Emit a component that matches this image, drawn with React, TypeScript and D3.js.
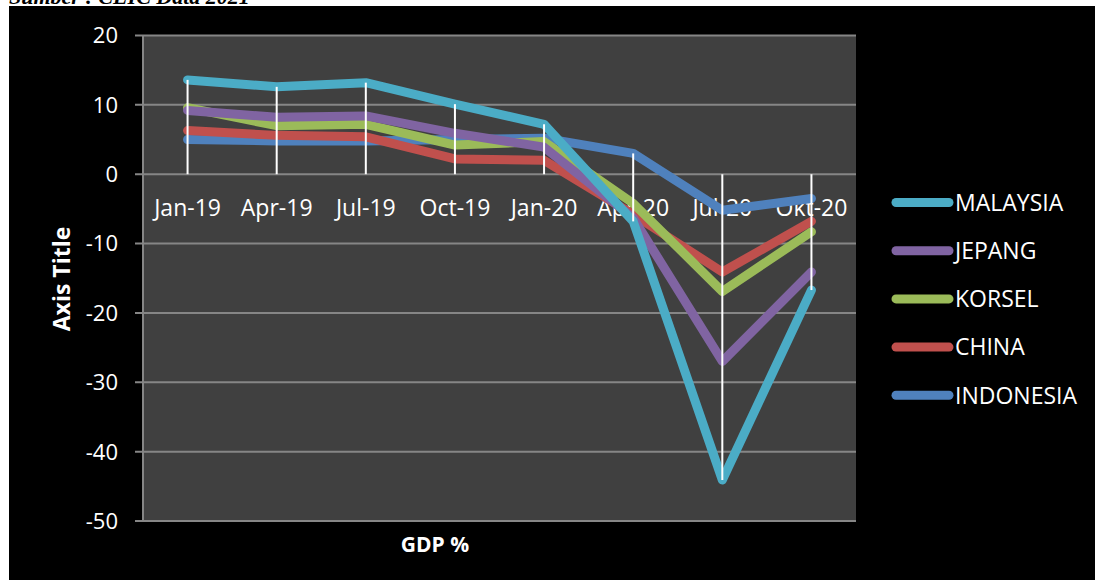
import React from "react";
import * as d3 from "d3";

const categories = ["Jan-19", "Apr-19", "Jul-19", "Oct-19", "Jan-20", "Apr-20", "Jul-20", "Okt-20"];
const seriesNames = ["MALAYSIA", "JEPANG", "KORSEL", "CHINA", "INDONESIA"];
const seriesColors = ["#4BACC6", "#8064A2", "#9BBB59", "#C0504D", "#4F81BD"];
const malaysia = [13.6, 12.6, 13.2, 10.1, 7.2, -6.8, -44.1, -16.7];
const jepang = [9.2, 8.2, 8.4, 5.9, 3.9, -6.3, -27.0, -14.1];
const korsel = [9.6, 7.0, 7.2, 4.2, 4.7, -4.2, -16.9, -8.3];
const china = [6.3, 5.6, 5.4, 2.2, 2.0, -5.8, -14.1, -6.8];
const indonesia = [5.0, 4.8, 4.8, 5.0, 5.2, 3.0, -5.2, -3.5];
const seriesValues = [malaysia, jepang, korsel, china, indonesia];
const yTicks = [20, 10, 0, -10, -20, -30, -40, -50];

const W = 1095;
const H = 582;
const plot = { left: 143, right: 856, top: 35.5, bottom: 521 };
const FONT = "'Open Sans', sans-serif";

export default function App() {
  const x = d3.scaleBand<string>().domain(categories).range([plot.left, plot.right]).padding(0);
  const y = d3.scaleLinear().domain([-50, 20]).range([plot.bottom, plot.top]);
  const cx = (c: string) => (x(c) as number) + x.bandwidth() / 2;
  const line = d3
    .line<number>()
    .x((_, i) => cx(categories[i]))
    .y((d) => y(d));

  const drawOrder = seriesNames.map((_, i) => i).reverse();

  return (
    <svg width={W} height={H} style={{ position: "absolute", left: 0, top: 0, background: "#fff" }}>
      <text
        x={9}
        y={4}
        fontFamily="'Liberation Serif', serif"
        fontWeight="bold"
        fontStyle="italic"
        fontSize={22}
        fill="#000"
      >
        Sumber : CEIC Data 2021
      </text>
      <rect x={9} y={6} width={W - 9} height={574} fill="#000" />
      <rect x={plot.left} y={plot.top} width={plot.right - plot.left} height={plot.bottom - plot.top} fill="#404040" />
      {yTicks.map((t) => (
        <g key={t}>
          <line x1={135} x2={plot.right} y1={y(t)} y2={y(t)} stroke="#868686" strokeWidth={2} />
          <text x={118} y={y(t)} dy="0.36em" textAnchor="end" fill="#fff" fontFamily={FONT} fontSize={22}>
            {t}
          </text>
        </g>
      ))}
      <line x1={plot.left} x2={plot.left} y1={plot.top} y2={plot.bottom} stroke="#868686" strokeWidth={2} />
      {categories.map((c) => (
        <text key={c} x={cx(c)} y={216} textAnchor="middle" fill="#fff" fontFamily={FONT} fontSize={23}>
          {c}
        </text>
      ))}
      {drawOrder.map((si) => (
        <path
          key={seriesNames[si]}
          d={line(seriesValues[si]) || ""}
          fill="none"
          stroke={seriesColors[si]}
          strokeWidth={9}
          strokeLinecap="round"
          strokeLinejoin="round"
        />
      ))}
      {categories.map((c, i) => {
        const vals = seriesValues.map((s) => s[i]);
        const hi = Math.max(0, ...vals);
        const lo = Math.min(0, ...vals);
        return <line key={"d" + c} x1={cx(c)} x2={cx(c)} y1={y(hi)} y2={y(lo)} stroke="#fff" strokeWidth={2} />;
      })}
      <text
        transform={`translate(70,${279}) rotate(-90)`}
        textAnchor="middle"
        fill="#fff"
        fontFamily={FONT}
        fontWeight="bold"
        fontSize={23}
      >
        Axis Title
      </text>
      <text x={435} y={552} textAnchor="middle" fill="#fff" fontFamily={FONT} fontWeight="bold" fontSize={21}>
        GDP %
      </text>
      {seriesNames.map((n, i) => {
        const ly = 202.5 + i * 48.2;
        return (
          <g key={n}>
            <line x1={896} x2={949} y1={ly} y2={ly} stroke={seriesColors[i]} strokeWidth={9} strokeLinecap="round" />
            <text x={955} y={ly} dy="0.36em" fill="#fff" fontFamily={FONT} fontSize={23}>
              {n}
            </text>
          </g>
        );
      })}
    </svg>
  );
}
